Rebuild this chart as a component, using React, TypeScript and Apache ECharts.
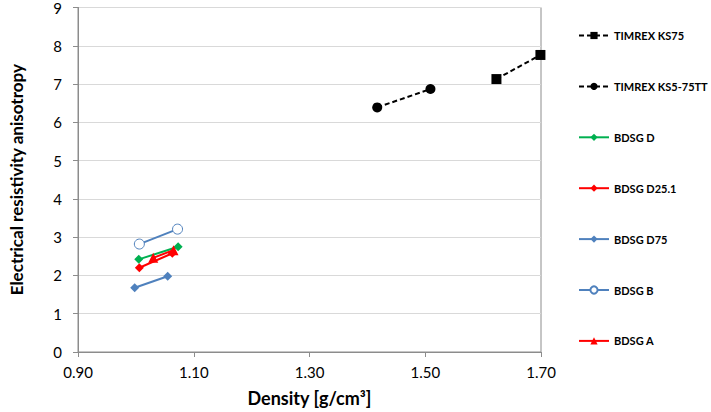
import React, { useEffect, useRef } from "react";
import * as echarts from "echarts";

// Density [g/cm³] and anisotropy values per material
const ks75Density = [1.623, 1.699];
const ks75Aniso = [7.13, 7.76];
const ks575Density = [1.417, 1.509];
const ks575Aniso = [6.39, 6.87];
const bdsgDDensity = [1.005, 1.073];
const bdsgDAniso = [2.42, 2.75];
const bdsgD251Density = [1.006, 1.063];
const bdsgD251Aniso = [2.2, 2.58];
const bdsgD75Density = [0.998, 1.055];
const bdsgD75Aniso = [1.68, 1.98];
const bdsgBDensity = [1.006, 1.072];
const bdsgBAniso = [2.82, 3.21];
const bdsgADensity = [1.03, 1.065];
const bdsgAAniso = [2.46, 2.66];

const legendNames = [
  "TIMREX KS75",
  "TIMREX KS5-75TT",
  "BDSG D",
  "BDSG D25.1",
  "BDSG D75",
  "BDSG B",
  "BDSG A",
];

const FONT = "Lato, 'Open Sans', sans-serif";

const pairs = (xs: number[], ys: number[]) => xs.map((x, i) => [x, ys[i]]);

export default function App() {
  const ref = useRef<HTMLDivElement>(null);

  useEffect(() => {
    if (!ref.current) return;
    const chart = echarts.init(ref.current, undefined, { renderer: "svg" });

    const mk = (
      name: string,
      xs: number[],
      ys: number[],
      color: string,
      symbol: string,
      symbolSize: number,
      dashed: boolean,
      hollow = false
    ) => ({
      name,
      type: "line",
      data: pairs(xs, ys),
      symbol,
      symbolSize,
      showSymbol: true,
      color,
      lineStyle: { color, width: 2, type: dashed ? [5, 3] : "solid" },
      itemStyle: hollow
        ? { color: "#ffffff", borderColor: color, borderWidth: 1 }
        : { color },
      z: 3,
    });

    chart.setOption({
      animation: false,
      textStyle: { fontFamily: FONT },
      grid: {
        left: 72,
        right: 170,
        top: 6,
        bottom: 57,
        show: true,
        borderColor: "#8c8c8c",
        borderWidth: 1,
      },
      legend: {
        orient: "vertical",
        left: 573,
        top: 25,
        itemWidth: 30,
        itemHeight: 9,
        itemGap: 39.9,
        textStyle: { fontFamily: FONT, fontSize: 11, fontWeight: "bold", color: "#000" },
        data: legendNames,
      },
      xAxis: {
        type: "value",
        min: 0.9,
        max: 1.7,
        interval: 0.2,
        name: "Density [g/cm³]",
        nameLocation: "middle",
        nameGap: 37,
        nameTextStyle: { fontFamily: FONT, fontSize: 18, fontWeight: "bold", color: "#000" },
        axisLine: { show: true, lineStyle: { color: "#8c8c8c" } },
        axisTick: { show: true, length: 5, lineStyle: { color: "#8c8c8c" } },
        axisLabel: {
          fontFamily: FONT,
          fontSize: 15,
          color: "#000",
          margin: 12,
          formatter: (v: number) => v.toFixed(2),
        },
        splitLine: { show: false },
      },
      yAxis: {
        type: "value",
        min: 0,
        max: 9,
        interval: 1,
        name: "Electrical resistivity anisotropy",
        nameLocation: "middle",
        nameGap: 53,
        nameRotate: 90,
        nameTextStyle: { fontFamily: FONT, fontSize: 17, fontWeight: "bold", color: "#000" },
        axisLine: { show: true, lineStyle: { color: "#8c8c8c" } },
        axisTick: { show: true, length: 5, lineStyle: { color: "#8c8c8c" } },
        axisLabel: { fontFamily: FONT, fontSize: 15, color: "#000", margin: 16 },
        splitLine: { show: true, lineStyle: { color: "#d9d9d9", width: 1 } },
      },
      series: [
        mk(legendNames[0], ks75Density, ks75Aniso, "#000000", "rect", 10, true),
        mk(legendNames[1], ks575Density, ks575Aniso, "#000000", "circle", 10, true),
        mk(legendNames[2], bdsgDDensity, bdsgDAniso, "#00b050", "diamond", 9, false),
        mk(legendNames[3], bdsgD251Density, bdsgD251Aniso, "#ff0000", "diamond", 9, false),
        mk(legendNames[4], bdsgD75Density, bdsgD75Aniso, "#4f81bd", "diamond", 9, false),
        mk(legendNames[5], bdsgBDensity, bdsgBAniso, "#4f81bd", "circle", 10, false, true),
        mk(legendNames[6], bdsgADensity, bdsgAAniso, "#ff0000", "triangle", 10, false),
      ],
    });

    return () => chart.dispose();
  }, []);

  return <div ref={ref} style={{ width: 711, height: 412, position: "absolute", left: 0, top: 0 }} />;
}
